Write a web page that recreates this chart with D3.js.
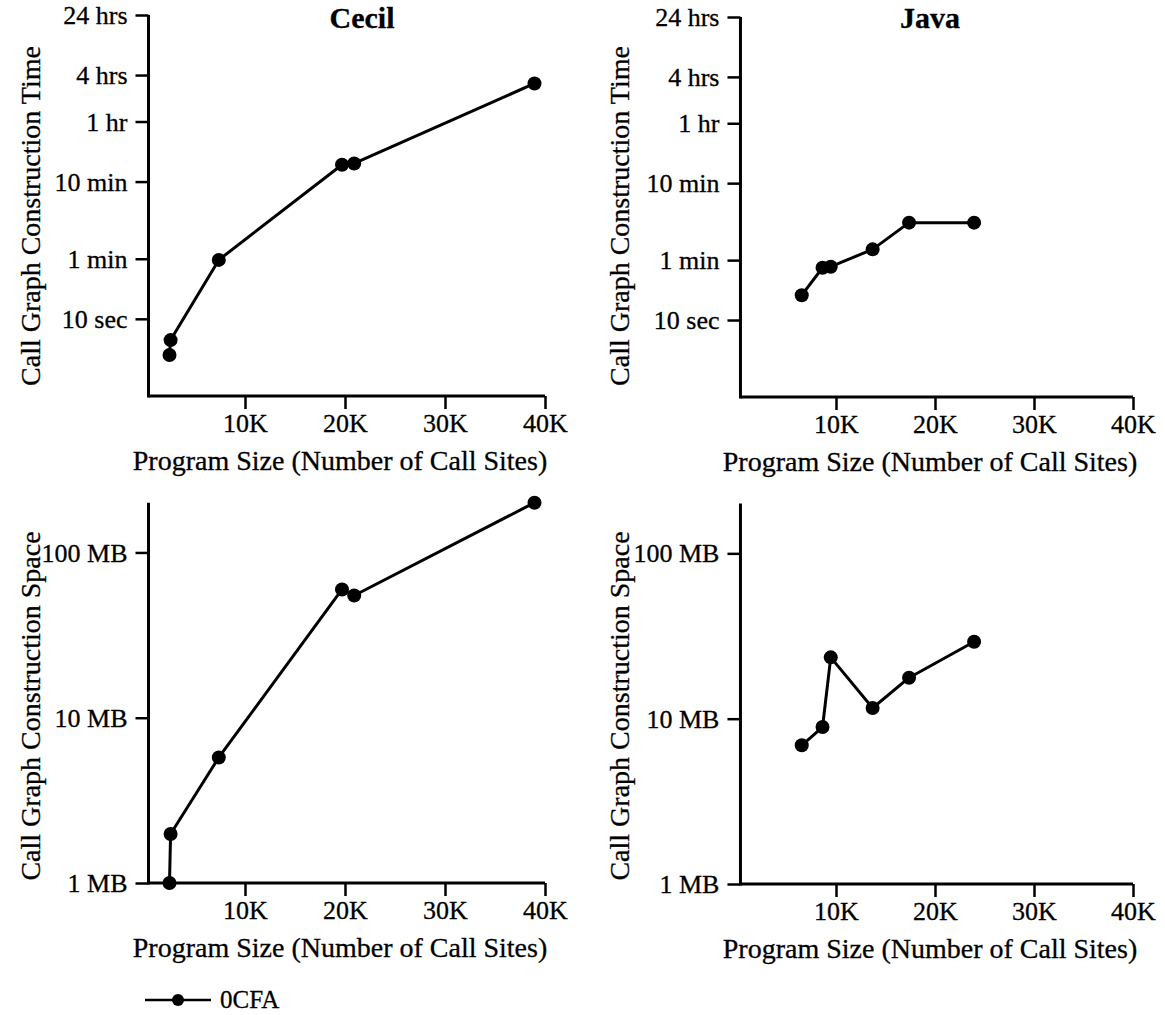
<!DOCTYPE html>
<html>
<head>
<meta charset="utf-8">
<script src="https://cdn.jsdelivr.net/npm/d3@7"></script>
<style>
  html, body { margin: 0; padding: 0; background: #fff; }
  svg { display: block; }
  text { font-family: "Liberation Serif", "Times New Roman", "DejaVu Serif", serif; fill: #000; stroke: #000; stroke-width: 0.3px; }
</style>
</head>
<body>
<svg id="chart" width="1165" height="1015"></svg>
<script>
// ---------------- data ----------------
const cecilSize  = [2450, 2560, 7380, 19700, 20920, 38950];
const cecilTime  = [3.4, 5.3, 58, 990, 1030, 11200];      // seconds
const cecilSpace = [1.0, 1.98, 5.75, 59.7, 54.9, 200];     // MB

const javaSize   = [6540, 8640, 9470, 13700, 17380, 23950];
const javaTime   = [21, 47.8, 49.3, 82.8, 184, 184];       // seconds
const javaSpace  = [6.9, 8.9, 23.5, 11.6, 17.7, 29.2];     // MB

const xTickValues = [10000, 20000, 30000, 40000];
const xTickLabels = ["10K", "20K", "30K", "40K"];
const timeTickValues = [10, 60, 600, 3600, 14400, 86400];
const timeTickLabels = ["10 sec", "1 min", "10 min", "1 hr", "4 hrs", "24 hrs"];
const spaceTickValues = [1, 10, 100];
const spaceTickLabels = ["1 MB", "10 MB", "100 MB"];

const panelTitles = ["Cecil", "Java"];
const xTitle = "Program Size (Number of Call Sites)";
const timeTitle = "Call Graph Construction Time";
const spaceTitle = "Call Graph Construction Space";
const legendLabel = "0CFA";

// ---------------- layout ----------------
const svg = d3.select("#chart");
const FONT_TICK = 26, FONT_AXIS = 28, FONT_TITLE = 30;

const panels = [
  { sizes: cecilSize, vals: cecilTime, kind: "time", title: panelTitles[0],
    xr: [145, 545], yr: [396, 15], yTitleX: 40, titleX: 362 },
  { sizes: javaSize, vals: javaTime, kind: "time", title: panelTitles[1],
    xr: [737, 1133], yr: [397, 17], yTitleX: 629, titleX: 930 },
  { sizes: cecilSize, vals: cecilSpace, kind: "space", title: null,
    xr: [145, 545], yr: [883, 502.7], yTitleX: 40 },
  { sizes: javaSize, vals: javaSpace, kind: "space", title: null,
    xr: [737, 1133], yr: [884, 503.6], yTitleX: 629 }
];

panels.forEach(p => {
  const x = d3.scaleLinear().domain([0, 40000]).range(p.xr);
  const isTime = p.kind === "time";
  const y = d3.scaleLog()
    .domain(isTime ? [1, 86400] : [1, 200])
    .range(p.yr);
  const tickVals = isTime ? timeTickValues : spaceTickValues;
  const tickLabs = isTime ? timeTickLabels : spaceTickLabels;

  const g = svg.append("g");
  const axisX = x(350);
  const baseY = p.yr[0];

  // x axis
  const xAxis = d3.axisBottom(x)
    .tickValues(xTickValues)
    .tickFormat((d, i) => xTickLabels[i])
    .tickSize(13).tickSizeOuter(0);
  const gx = g.append("g").attr("transform", `translate(0,${baseY})`).call(xAxis);
  gx.select(".domain").remove();
  gx.selectAll(".tick line").attr("stroke", "#000").attr("stroke-width", 2.5);
  gx.selectAll(".tick text")
    .attr("font-size", FONT_TICK).attr("y", 36).attr("dy", 0)
    .style("font-family", '"Liberation Serif", "Times New Roman", serif');
  g.append("line")
    .attr("x1", axisX).attr("x2", x(40000))
    .attr("y1", baseY).attr("y2", baseY)
    .attr("stroke", "#000").attr("stroke-width", 3);

  // y axis
  const yAxis = d3.axisLeft(y)
    .tickValues(tickVals)
    .tickFormat((d, i) => tickLabs[i])
    .tickSize(13).tickSizeOuter(0);
  const gy = g.append("g").attr("transform", `translate(${axisX},0)`).call(yAxis);
  gy.select(".domain").remove();
  gy.selectAll(".tick line").attr("stroke", "#000").attr("stroke-width", 2.5);
  gy.selectAll(".tick text")
    .attr("font-size", FONT_TICK).attr("x", -21).attr("dy", "0.33em")
    .style("font-family", '"Liberation Serif", "Times New Roman", serif');
  g.append("line")
    .attr("x1", axisX).attr("x2", axisX)
    .attr("y1", y.range()[1]).attr("y2", baseY + 1.5)
    .attr("stroke", "#000").attr("stroke-width", 3);

  // axis titles
  const midX = (p.xr[0] + p.xr[1]) / 2 - 5;
  g.append("text")
    .attr("x", midX).attr("y", baseY + 74)
    .attr("text-anchor", "middle").attr("font-size", FONT_AXIS)
    .text(xTitle);
  const midY = isTime ? 216 : 706;
  g.append("text")
    .attr("transform", `translate(${p.yTitleX},${midY}) rotate(-90)`)
    .attr("text-anchor", "middle").attr("font-size", FONT_AXIS)
    .text(isTime ? timeTitle : spaceTitle);

  if (p.title) {
    g.append("text")
      .attr("x", p.titleX).attr("y", 28)
      .attr("text-anchor", "middle").attr("font-size", FONT_TITLE)
      .attr("font-weight", "bold")
      .text(p.title);
  }

  // data line + points
  const pts = p.sizes.map((s, i) => [s, p.vals[i]]);
  const line = d3.line().x(d => x(d[0])).y(d => y(d[1]));
  g.append("path")
    .datum(pts)
    .attr("d", line)
    .attr("fill", "none").attr("stroke", "#000").attr("stroke-width", 3)
    .attr("stroke-linejoin", "round");
  g.selectAll("circle.pt").data(pts).join("circle")
    .attr("class", "pt")
    .attr("cx", d => x(d[0])).attr("cy", d => y(d[1]))
    .attr("r", 7).attr("fill", "#000");
});

// legend
const lg = svg.append("g").attr("transform", "translate(145,1000)");
lg.append("line").attr("x1", 0).attr("x2", 66).attr("y1", 0).attr("y2", 0)
  .attr("stroke", "#000").attr("stroke-width", 2.5);
lg.append("circle").attr("cx", 33).attr("cy", 0).attr("r", 6).attr("fill", "#000");
lg.append("text").attr("x", 75).attr("y", 0).attr("dy", "0.3em")
  .attr("font-size", 25).text(legendLabel);
</script>
</body>
</html>
